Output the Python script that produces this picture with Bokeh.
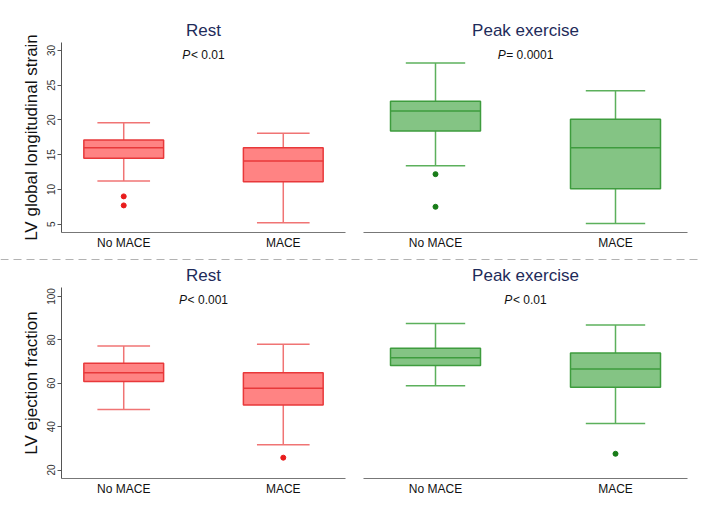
from bokeh.plotting import figure
from bokeh.models import Range1d, FixedTicker, Title, Span
from bokeh.layouts import column, row
from bokeh.embed import file_html
from bokeh.resources import INLINE
from bokeh.core.properties import value

FONT = "Liberation Sans"

# ---------------- data ----------------
groups = ["No MACE", "MACE"]
group_x = [1, 2]

gls_ticks = [5, 10, 15, 20, 25, 30]
ef_ticks = [20, 40, 60, 80, 100]

# LV global longitudinal strain, rest
gls_rest_low = [11.2, 5.2]
gls_rest_q1 = [14.5, 11.1]
gls_rest_med = [16.0, 14.1]
gls_rest_q3 = [17.1, 16.0]
gls_rest_high = [19.6, 18.1]
gls_rest_out_group = ["No MACE", "No MACE"]
gls_rest_out_val = [9.0, 7.7]
gls_rest_p = ("P", "< 0.01")

# LV global longitudinal strain, peak exercise
gls_peak_low = [13.4, 5.1]
gls_peak_q1 = [18.4, 10.1]
gls_peak_med = [21.3, 16.0]
gls_peak_q3 = [22.7, 20.1]
gls_peak_high = [28.2, 24.2]
gls_peak_out_group = ["No MACE", "No MACE"]
gls_peak_out_val = [12.2, 7.5]
gls_peak_p = ("P", "= 0.0001")

# LV ejection fraction, rest
ef_rest_low = [47.9, 31.7]
ef_rest_q1 = [60.8, 50.0]
ef_rest_med = [64.8, 57.7]
ef_rest_q3 = [69.2, 64.9]
ef_rest_high = [77.2, 78.0]
ef_rest_out_group = ["MACE"]
ef_rest_out_val = [25.7]
ef_rest_p = ("P", "< 0.001")

# LV ejection fraction, peak exercise
ef_peak_low = [58.9, 41.5]
ef_peak_q1 = [68.2, 58.2]
ef_peak_med = [71.8, 66.6]
ef_peak_q3 = [76.1, 74.0]
ef_peak_high = [87.6, 86.9]
ef_peak_out_group = ["MACE"]
ef_peak_out_val = [27.5]
ef_peak_p = ("P", "< 0.01")

RED = dict(fill="#ff8383", edge="#e8383a", whisk="#f07474", dot="#e81c1c")
GREEN = dict(fill="#84c484", edge="#3e9c3e", whisk="#5cb05c", dot="#187c18")

CW = {"P": 0.667, "<": 0.584, "=": 0.584, " ": 0.278, ".": 0.278}


def text_w(s, size):
    return sum(CW.get(c, 0.556) for c in s) * size


def panel(title, ptxt, low, q1, med, q3, high, out_g, out_v, col, yr, ticks,
          ylabel, width, height, mb, xr):
    p = figure(width=width, height=height, x_range=Range1d(*xr), y_range=Range1d(*yr),
               toolbar_location=None, output_backend="svg",
               min_border_left=mb[0], min_border_right=mb[1],
               min_border_top=mb[2], min_border_bottom=mb[3])
    p.title = Title(text=title, align="center", text_font=FONT, text_font_size="17px",
                    text_font_style="normal", text_color="#1e2b5a", standoff=5)
    p.outline_line_color = None
    p.xgrid.visible = False
    p.ygrid.visible = False
    p.background_fill_color = "white"
    p.border_fill_color = "white"

    xa = p.xaxis[0]
    xa.ticker = FixedTicker(ticks=group_x)
    xa.major_label_overrides = {gx: g for gx, g in zip(group_x, groups)}
    xa.major_tick_out = 0
    xa.major_tick_in = 0
    xa.minor_tick_out = 0
    xa.minor_tick_in = 0
    xa.axis_line_color = "#777777"
    xa.axis_line_width = 1.2
    xa.major_label_text_font = FONT
    xa.major_label_text_font_size = "12px"
    xa.major_label_text_color = "#111111"
    xa.major_label_standoff = 3

    ya = p.yaxis[0]
    if ylabel is None:
        ya.visible = False
    else:
        ya.ticker = FixedTicker(ticks=ticks)
        ya.axis_label = ylabel
        ya.axis_label_text_font = FONT
        ya.axis_label_text_font_size = "17px"
        ya.axis_label_text_font_style = "normal"
        ya.axis_label_text_color = "#111111"
        ya.axis_label_standoff = 4
        ya.major_label_orientation = "vertical"
        ya.major_label_text_font = FONT
        ya.major_label_text_font_size = "10px"
        ya.major_label_text_color = "#333333"
        ya.major_label_standoff = 2
        ya.major_tick_out = 4
        ya.major_tick_in = 0
        ya.minor_tick_out = 0
        ya.minor_tick_in = 0
        ya.axis_line_color = "#555555"
        ya.major_tick_line_color = "#555555"

    bw = 0.5
    cw = 0.33
    # whiskers
    p.segment(x0=group_x, y0=q3, x1=group_x, y1=high, line_color=col["whisk"], line_width=1.5)
    p.segment(x0=group_x, y0=q1, x1=group_x, y1=low, line_color=col["whisk"], line_width=1.5)
    # caps
    left = [gx - cw / 2 for gx in group_x]
    right = [gx + cw / 2 for gx in group_x]
    p.segment(x0=left, y0=high, x1=right, y1=high, line_color=col["whisk"], line_width=1.5)
    p.segment(x0=left, y0=low, x1=right, y1=low, line_color=col["whisk"], line_width=1.5)
    # boxes
    p.vbar(x=group_x, width=bw, top=q3, bottom=q1, fill_color=col["fill"],
           line_color=col["edge"], line_width=1.5)
    bl = [gx - bw / 2 for gx in group_x]
    br = [gx + bw / 2 for gx in group_x]
    p.segment(x0=bl, y0=med, x1=br, y1=med, line_color=col["edge"], line_width=1.5)
    # outliers
    ox = [group_x[groups.index(g)] for g in out_g]
    p.scatter(x=ox, y=out_v, size=5, fill_color=col["dot"], line_color=col["dot"])

    # P value annotation
    mid = (group_x[0] + group_x[1]) / 2
    ypos = yr[1] - 0.068 * (yr[1] - yr[0])
    total = text_w(ptxt[0], 12) * 0.95 + text_w(ptxt[1], 12) + 1
    start = -total / 2
    p.text(x=[mid], y=[ypos], text=[ptxt[0]], text_font=value(FONT), text_font_size="12px",
           text_font_style="italic", text_align="left", text_baseline="middle",
           text_color="#111111", x_offset=start)
    p.text(x=[mid], y=[ypos], text=[ptxt[1]], text_font=value(FONT), text_font_size="12px",
           text_align="left", text_baseline="middle", text_color="#111111",
           x_offset=start + text_w(ptxt[0], 12) * 0.95 + 1)
    return p


gls_range = (3.8, 31.15)
ef_range = (16.1, 104.15)

tl = panel("Rest", gls_rest_p, gls_rest_low, gls_rest_q1, gls_rest_med, gls_rest_q3, gls_rest_high,
           gls_rest_out_group, gls_rest_out_val, RED, gls_range, gls_ticks,
           "LV global longitudinal strain", 354, 252, (61, 9, 42, 20), (0.61, 2.39))
tr = panel("Peak exercise", gls_peak_p, gls_peak_low, gls_peak_q1, gls_peak_med, gls_peak_q3,
           gls_peak_high, gls_peak_out_group, gls_peak_out_val, GREEN, gls_range, gls_ticks,
           None, 347, 252, (9, 14, 42, 20), (0.6, 2.4))
bl_ = panel("Rest", ef_rest_p, ef_rest_low, ef_rest_q1, ef_rest_med, ef_rest_q3, ef_rest_high,
            ef_rest_out_group, ef_rest_out_val, RED, ef_range, ef_ticks,
            "LV ejection fraction", 354, 249, (61, 9, 27, 31), (0.61, 2.39))
br_ = panel("Peak exercise", ef_peak_p, ef_peak_low, ef_peak_q1, ef_peak_med, ef_peak_q3,
            ef_peak_high, ef_peak_out_group, ef_peak_out_val, GREEN, ef_range, ef_ticks,
            None, 347, 249, (9, 14, 27, 31), (0.6, 2.4))

sep = figure(width=701, height=8, x_range=Range1d(0, 1), y_range=Range1d(0, 1),
             toolbar_location=None, output_backend="svg", min_border=0)
sep.axis.visible = False
sep.grid.visible = False
sep.outline_line_color = None
sep.add_layout(Span(location=0.5, dimension="width", line_color="#666666",
                    line_width=2, line_dash="8 5"))

layout = column(row(tl, tr), sep, row(bl_, br_))

with open("out.html", "w") as f:
    f.write(file_html(layout, INLINE))
